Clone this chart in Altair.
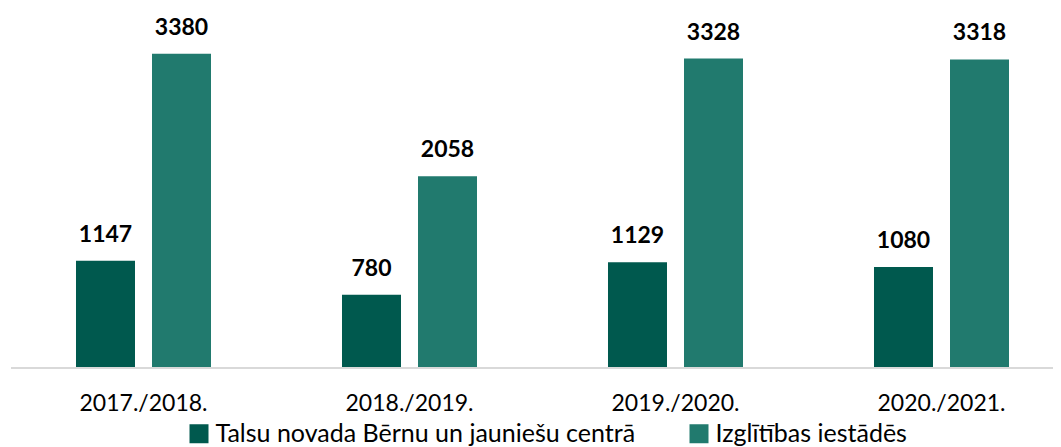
import altair as alt
import pandas as pd

years = ["2017./2018.", "2018./2019.", "2019./2020.", "2020./2021."]
series_names = ["Talsu novada Bērnu un jauniešu centrā", "Izglītības iestādēs"]
centre_values = [1147, 780, 1129, 1080]
school_values = [3380, 2058, 3328, 3318]
colors = ["#00594E", "#217A6E"]

rows = []
for y, a, b in zip(years, centre_values, school_values):
    rows.append({"year": y, "series": series_names[0], "value": a})
    rows.append({"year": y, "series": series_names[1], "value": b})
df = pd.DataFrame(rows)

FONT = "Lato"
W, H = 1064, 359
PAD_L = 2.5
PAD_R = 1045 - PAD_L - W

x_enc = alt.X(
    "year:N",
    sort=years,
    scale=alt.Scale(paddingInner=0, paddingOuter=0),
    axis=alt.Axis(
        title=None, domain=False, ticks=False, labelAngle=0,
        labelFontSize=23, labelFont=FONT, labelColor="#000000", labelPadding=25,
    ),
)
xoff = alt.XOffset(
    "series:N", sort=series_names,
    scale=alt.Scale(paddingInner=0.2237, paddingOuter=0.8618),
)
y_enc = alt.Y(
    "value:Q",
    scale=alt.Scale(domain=[0, 3873], nice=False),
    axis=None,
)

base = alt.Chart(df)

bars = base.mark_bar().encode(
    x=x_enc,
    xOffset=xoff,
    y=y_enc,
    color=alt.Color(
        "series:N",
        sort=series_names,
        scale=alt.Scale(domain=series_names, range=colors),
        legend=alt.Legend(
            title=None, orient="none", legendX=176, legendY=413,
            direction="horizontal", symbolType="square", symbolSize=361,
            symbolStrokeWidth=0, labelFontSize=25, labelFont=FONT,
            labelColor="#000000", columnPadding=51, labelOffset=4, labelLimit=0,
        ),
    ),
)

labels = base.mark_text(
    fontSize=23, fontWeight="bold", font=FONT, baseline="bottom", dy=-14, color="#000000"
).encode(
    x=alt.X("year:N", sort=years),
    xOffset=alt.XOffset("series:N", sort=series_names),
    y="value:Q",
    text="value:Q",
)

axis_line = alt.Chart(pd.DataFrame({"v": [0]})).mark_rule(
    color="#D9D9D9", strokeWidth=2
).encode(x=alt.value(0.5), x2=alt.value(W), y=alt.value(H + 1))

chart = alt.layer(bars, labels, axis_line).properties(
    width=W, height=H,
    autosize=alt.AutoSizeParams(type="none"),
    padding={"left": PAD_L, "top": 0, "right": PAD_R, "bottom": 80},
).configure_view(stroke=None)

chart.save("out.html", embed_options={"renderer": "svg", "actions": False})
